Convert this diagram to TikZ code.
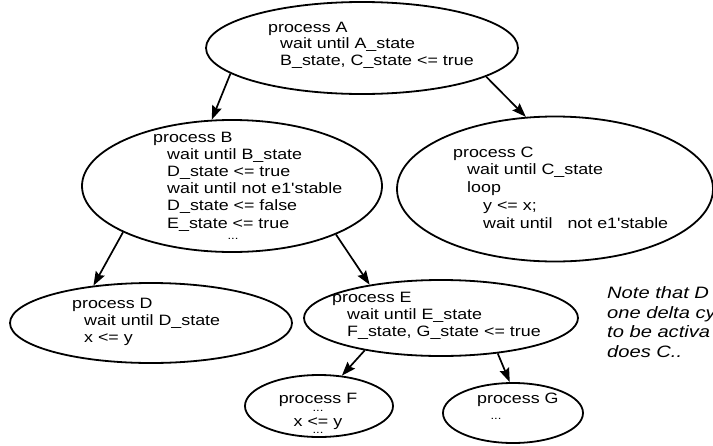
\documentclass[tikz,border=0pt]{standalone}
\usepackage{fontspec}
\usetikzlibrary{shapes.geometric,arrows.meta}
\newfontfamily\procfont[FakeStretch=1.19]{Liberation Sans}
\newfontfamily\notefont[FakeStretch=1.22,ItalicFont={Liberation Sans Italic}]{Liberation Sans}
\tikzset{
  proc/.style={draw, line width=1.8pt, ellipse, inner sep=0pt},
  % multi-line bodies: the base anchor sits on the last line
  code/.style={anchor=base west, inner sep=0pt, align=left,
    font=\procfont\fontsize{15}{17}\selectfont},
  dots/.style={inner sep=0pt, font=\procfont\fontsize{11}{11}\selectfont},
  flow/.style={line width=1.7pt, -{Stealth[length=14pt,width=10pt,inset=2pt]}},
}
\begin{document}
\begin{tikzpicture}[x=1pt,y=-1pt]
\useasboundingbox[fill=white] (0,0) rectangle (713,445);

% process ellipses
\node[proc, minimum width=312pt, minimum height=92pt]  (A) at (362,48)  {};
\node[proc, minimum width=300pt, minimum height=132pt] (B) at (232,186) {};
\node[proc, minimum width=316pt, minimum height=145pt] (C) at (555,189) {};
\node[proc, minimum width=282pt, minimum height=80pt]  (D) at (151,323) {};
\node[proc, minimum width=274pt, minimum height=76pt]  (E) at (441,318) {};
\node[proc, minimum width=148pt, minimum height=62pt]  (F) at (319,406) {};
\node[proc, minimum width=140pt, minimum height=60pt]  (G) at (513,413) {};

% process bodies
\node[code, font=\procfont\fontsize{15}{16.5}\selectfont] (tA) at (268,65) {process A\\
  \hspace*{12pt}wait until A\_state\\
  \hspace*{12pt}B\_state, C\_state <= true};
\node[code, font=\procfont\fontsize{15}{17.2}\selectfont] (tB) at (153,228) {process B\\
  \hspace*{14pt}wait until B\_state\\
  \hspace*{14pt}D\_state <= true\\
  \hspace*{14pt}wait until not e1'stable\\
  \hspace*{14pt}D\_state <= false\\
  \hspace*{14pt}E\_state <= true};
\node[dots] (dB) at (233,239) {...};
\node[code, font=\procfont\fontsize{15}{17.7}\selectfont] (tC) at (453,228) {process C\\
  \hspace*{14pt}wait until C\_state\\
  \hspace*{14pt}loop\\
  \hspace*{30pt}y <= x;\\
  \hspace*{30pt}wait until\ \ \ not e1'stable};
\node[code] (tD) at (72,342) {process D\\
  \hspace*{12pt}wait until D\_state\\
  \hspace*{12pt}x <= y};
\node[code] (tE) at (332,336) {process E\\
  \hspace*{15pt}wait until E\_state\\
  \hspace*{15pt}F\_state, G\_state <= true};
\node[code, anchor=base] (tF) at (318,403) {process F};
\node[dots] (dF1) at (318,411) {...};
\node[code, anchor=base] (tF2) at (318,426) {x <= y};
\node[dots] (dF2) at (318,433) {...};
\node[code] (tG) at (477,403) {process G};
\node[dots] (dG) at (496,419) {...};

% remark at the right
\node[anchor=base west, inner sep=0pt, align=left,
  font=\notefont\itshape\fontsize{16.5}{19.5}\selectfont] (note) at (607,357)
  {Note that D\\one delta cy\\to be activa\\does C..};

% activation arrows
\draw[flow] (A.191)   -- (B.107);
\draw[flow] (A.347)   -- (C.112);
\draw[flow] (B.203)   -- (D.147);
\draw[flow] (B.335.5) -- (E.155);
\draw[flow] (E.203.4) -- (F.53);
\draw[flow] (E.328)   -- (G.96);
\end{tikzpicture}
\end{document}
